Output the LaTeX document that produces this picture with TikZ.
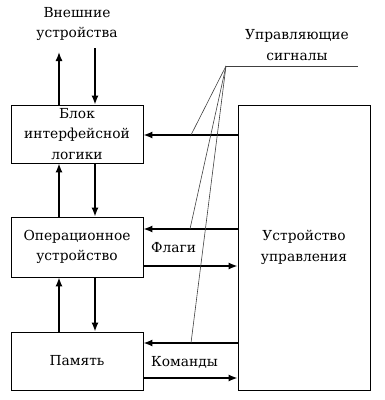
\documentclass[tikz,border=0pt]{standalone}
\usepackage{fontspec}
\setmainfont{DejaVu Serif}
\usetikzlibrary{arrows.meta,positioning}

\begin{document}
\begin{tikzpicture}[x=1pt, y=-1pt,
  font=\fontsize{13.8}{20.5}\selectfont,
  block/.style={rectangle, draw, line width=0.9pt, minimum width=132pt,
                align=center, inner sep=0pt},
  arrow/.style={-{Latex[length=9pt,width=7pt]}, line width=1.4pt},
  signal/.style={line width=0.6pt, black!75},
  sigtext/.style={inner sep=0pt, anchor=west},
]
\useasboundingbox (0,0) rectangle (385,400);

\node[block, minimum height=58pt] (blok) at (77,134) {Блок\\интерфейсной\\логики};
\node[block, minimum height=60pt] (opu) at (77,247) {Операционное\\устройство};
\node[block, minimum height=58pt] (mem) at (77,361) {Память};
\node[block, minimum height=285pt] (uu) at (304,247.5) {Устройство\\управления};

\node[align=center] (ext) at (77,24) {Внешние\\устройства};
\node[align=center] (sig) at (297,45) {Управляющие\\сигналы};

% columns and rows of the connectors
\coordinate (xl) at (59,0);
\coordinate (xr) at (95,0);
\coordinate (extout) at (59,52);
\coordinate (extin) at (95,48);
\coordinate (y1) at (0,135);
\coordinate (y2) at (0,229);
\coordinate (y3) at (0,266);
\coordinate (y4) at (0,343);
\coordinate (y5) at (0,378);

% vertical links
\draw[arrow] (blok.north -| xl) -- (extout);
\draw[arrow] (extin) -- (blok.north -| xr);
\draw[arrow] (opu.north -| xl) -- (blok.south -| xl);
\draw[arrow] (blok.south -| xr) -- (opu.north -| xr);
\draw[arrow] (mem.north -| xl) -- (opu.south -| xl);
\draw[arrow] (opu.south -| xr) -- (mem.north -| xr);

% links to the control unit
\draw[arrow] (uu.west |- y1) -- (blok.east |- y1);
\draw[arrow] (uu.west |- y2) -- (opu.east |- y2);
\draw[arrow] (opu.east |- y3) -- (uu.west |- y3);
\draw[arrow] (uu.west |- y4) -- (mem.east |- y4);
\draw[arrow] (mem.east |- y5) -- (uu.west |- y5);

\node[sigtext] (flags) at (151,248) {Флаги};
\node[sigtext] (cmds) at (151,362) {Команды};

% control signals
\coordinate (apex) at (226,66);
\coordinate (sigend) at (358,66);
\coordinate (c1) at (191,135);
\coordinate (c2) at (190,229);
\coordinate (c3) at (191,343);
\draw[signal] (apex) -- (sigend);
\foreach \c in {c1,c2,c3}
  \draw[signal] (apex) -- (\c);

\end{tikzpicture}
\end{document}
